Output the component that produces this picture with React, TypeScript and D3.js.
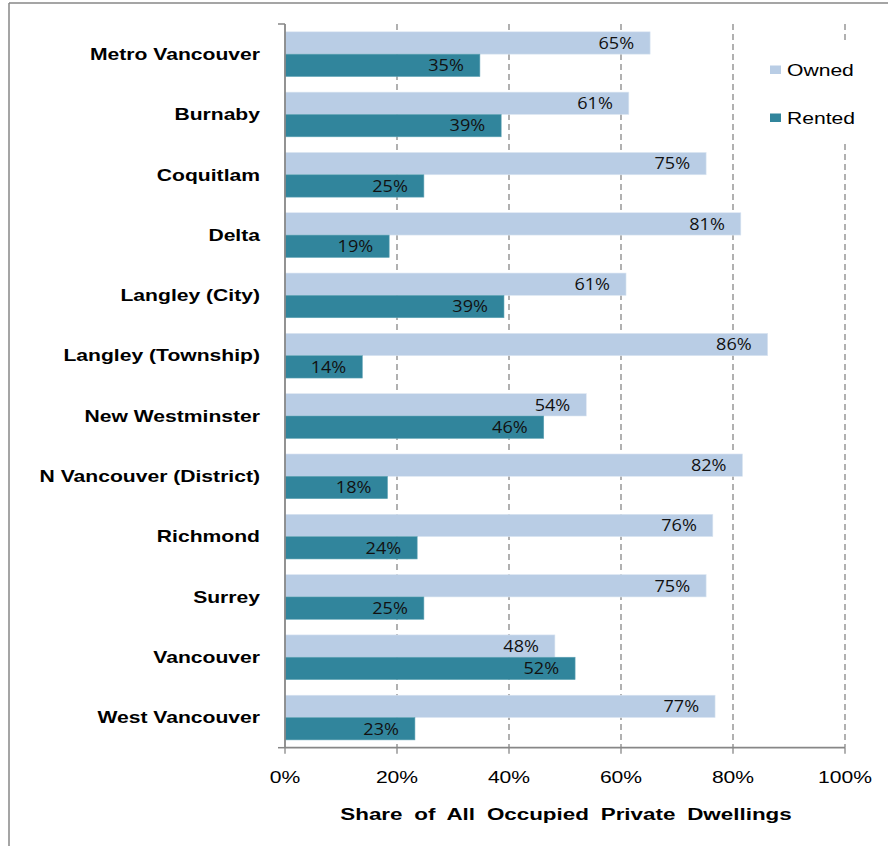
import React from "react";
import * as d3 from "d3";

const categories = [
  "Metro Vancouver",
  "Burnaby",
  "Coquitlam",
  "Delta",
  "Langley (City)",
  "Langley (Township)",
  "New Westminster",
  "N Vancouver (District)",
  "Richmond",
  "Surrey",
  "Vancouver",
  "West Vancouver",
];
const owned = [65.2, 61.4, 75.2, 81.4, 60.9, 86.2, 53.8, 81.7, 76.4, 75.2, 48.2, 76.8];
const rented = [34.8, 38.6, 24.8, 18.6, 39.1, 13.8, 46.2, 18.3, 23.6, 24.8, 51.8, 23.2];
const seriesNames = ["Owned", "Rented"];
const seriesColors = ["#B9CDE5", "#31859C"];
const xTicks = [0, 20, 40, 60, 80, 100];
const axisTitle = "Share of All Occupied Private Dwellings";

const W = 888;
const H = 846;
const PL = 285;
const PR = 845;
const PT = 24;
const PB = 747.7;
const SX = 1.32;
const GRID = "#878787";

function ST({ x, y, anchor = "start", sx = SX, size = 16, weight = "normal", family = "'Liberation Sans', Arial, sans-serif", fill = "#000", wordSpacing = 0, children }: any) {
  return (
    <text
      transform={`translate(${x},${y}) scale(${sx},1)`}
      textAnchor={anchor}
      fontSize={size}
      fontWeight={weight}
      fontFamily={family}
      fill={fill}
      style={{ wordSpacing: wordSpacing }}
    >
      {children}
    </text>
  );
}

export default function App() {
  const x = d3.scaleLinear().domain([0, 100]).range([PL, PR]);
  const y = d3.scaleBand<string>().domain(categories).range([PT, PB]).padding(0);
  const band = y.bandwidth();
  const barH = band / 2.7;
  const off = (band - 2 * barH) / 2;
  const series = [owned, rented];

  return (
    <svg width={W} height={H} style={{ position: "absolute", left: 0, top: 0, background: "#fff" }}>
      <rect x={0} y={0} width={W} height={H} fill="#fff" />
      {/* outer border */}
      <line x1={9} y1={3} x2={W} y2={3} stroke={GRID} strokeWidth={1.5} />
      <line x1={9} y1={3} x2={9} y2={H} stroke={GRID} strokeWidth={1.5} />

      {/* gridlines */}
      {xTicks.filter((t) => t > 0).map((t) => (
        <line key={"g" + t} x1={x(t)} x2={x(t)} y1={PT} y2={PB} stroke={GRID} strokeWidth={1.3} strokeDasharray="6,4" />
      ))}
      {/* tick marks below axis */}
      {xTicks.map((t) => (
        <line key={"tk" + t} x1={x(t)} x2={x(t)} y1={PB} y2={PB + 6} stroke={GRID} strokeWidth={1.3} />
      ))}

      {/* bars */}
      {categories.map((c, i) => (
        <g key={c}>
          {series.map((s, k) => {
            const by = (y(c) as number) + off + k * barH;
            return (
              <g key={k}>
                <rect
                  x={x(0)}
                  y={by}
                  width={x(s[i]) - x(0)}
                  height={barH}
                  fill={seriesColors[k]}
                  stroke={k === 0 ? "#DCE6F2" : "#5FA3B5"}
                  strokeWidth={0.6}
                />
                <ST
                  x={x(s[i]) - 16}
                  y={by + barH / 2 + 5.8}
                  anchor="end"
                  sx={1.13}
                  size={16}
                  family="'Open Sans', 'Noto Sans', sans-serif"
                  fill="#111"
                >
                  {d3.format(".0f")(s[i]) + "%"}
                </ST>
              </g>
            );
          })}
          <ST x={260} y={(y(c) as number) + band / 2 + 5.8} anchor="end" weight="bold">
            {c}
          </ST>
        </g>
      ))}

      {/* axes */}
      <line x1={PL} x2={PL} y1={PT} y2={PB} stroke={GRID} strokeWidth={1.8} />
      <line x1={PL - 7} x2={PL} y1={PT} y2={PT} stroke={GRID} strokeWidth={1.5} />
      <line x1={PL - 7} x2={PL} y1={PB} y2={PB} stroke={GRID} strokeWidth={1.5} />
      <line x1={PL} x2={PR} y1={PB} y2={PB} stroke={GRID} strokeWidth={1.8} />

      {xTicks.map((t) => (
        <ST key={"tl" + t} x={x(t)} y={783} anchor="middle">
          {t + "%"}
        </ST>
      ))}

      <ST x={(PL + PR) / 2 + 1} y={820} anchor="middle" weight="bold" sx={1.4} wordSpacing={4}>
        {axisTitle}
      </ST>

      {/* legend */}
      <rect x={756} y={44} width={125} height={97} fill="#fff" />
      {seriesNames.map((n, k) => (
        <g key={n}>
          <rect x={770} y={65.5 + k * 48} width={11} height={8.5} fill={seriesColors[k]} />
          <ST x={787} y={76 + k * 47.5}>{n}</ST>
        </g>
      ))}
    </svg>
  );
}
